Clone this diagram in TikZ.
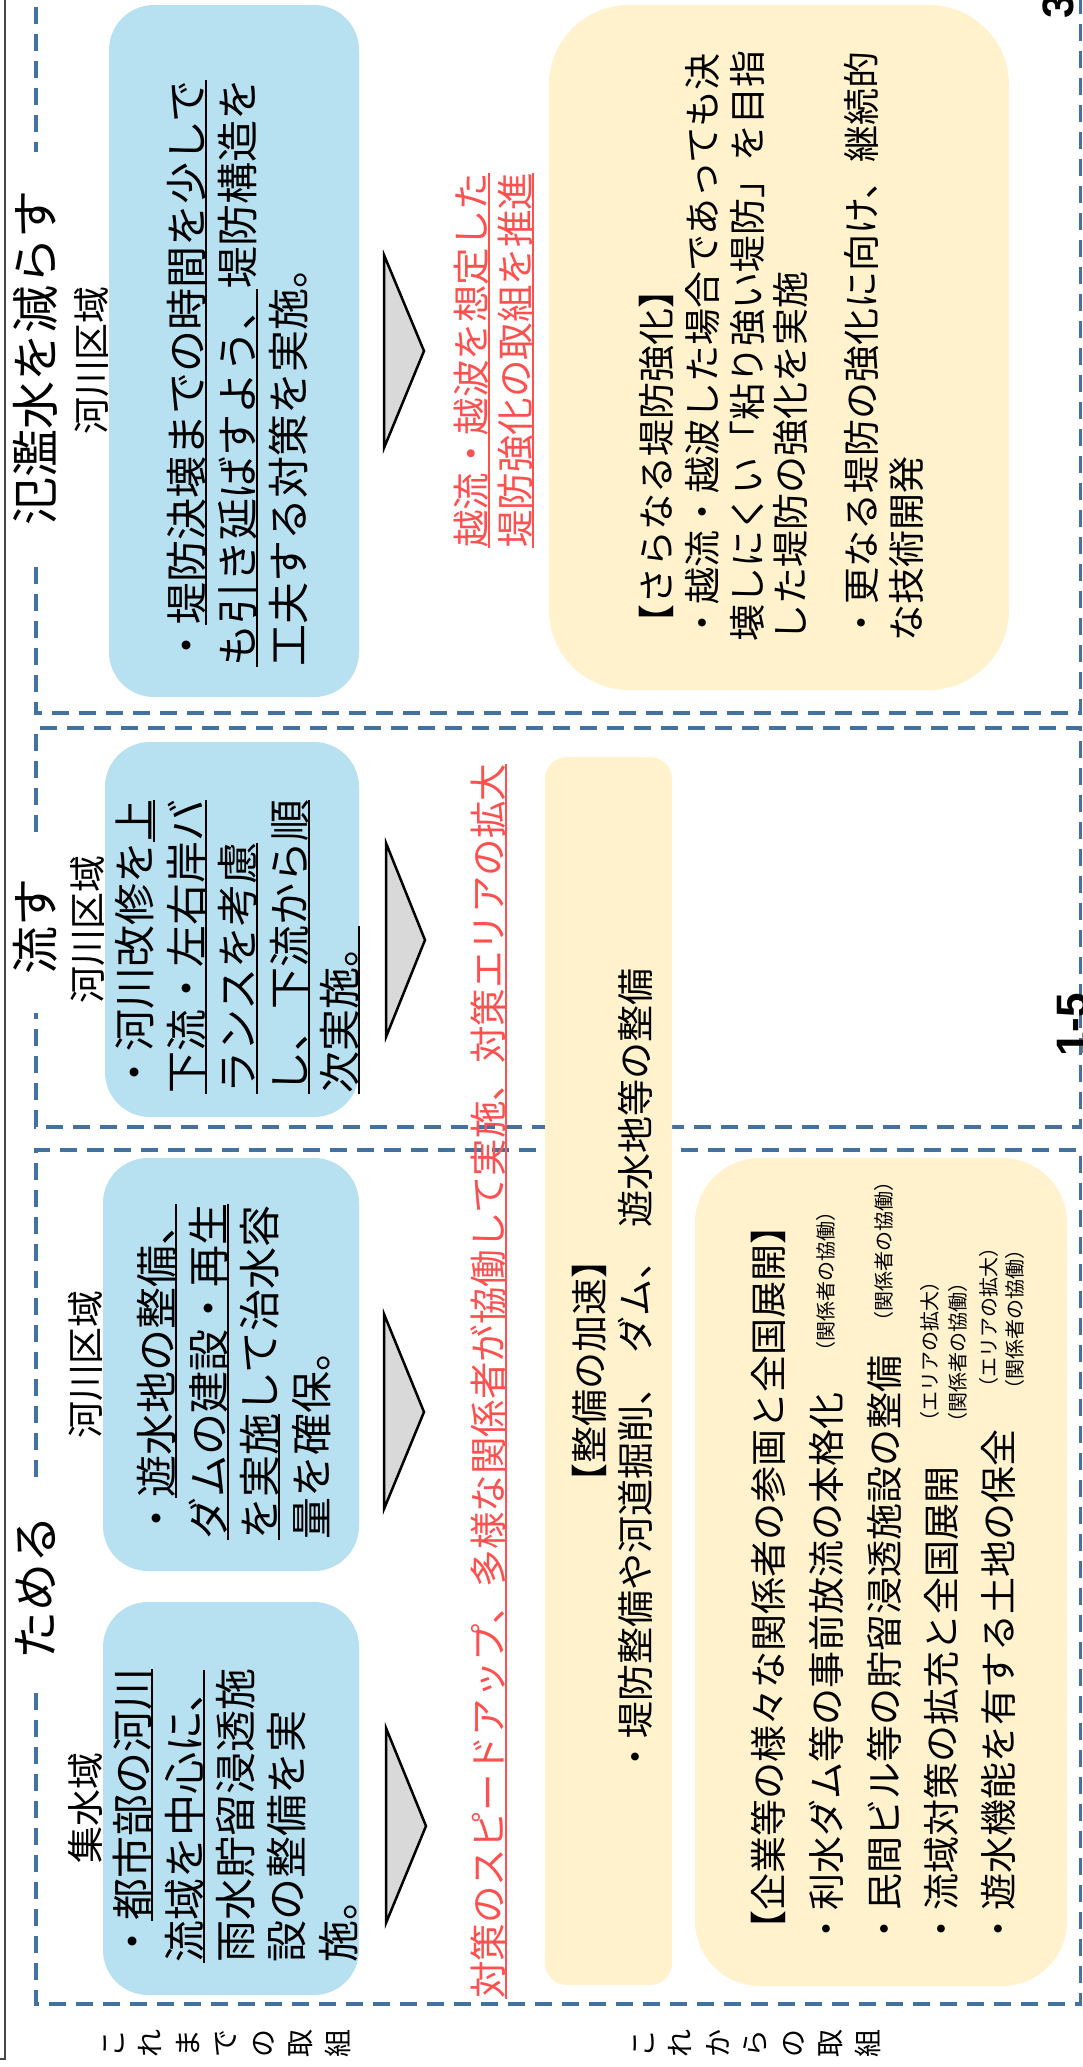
\documentclass[tikz,border=0pt]{standalone}
\usepackage{fontspec}
\setmainfont{Noto Sans CJK JP}
\newfontfamily\numfont{Liberation Sans}
\definecolor{boxblue}{RGB}{183,224,240}
\definecolor{boxyel}{RGB}{255,242,204}
\definecolor{dashblue}{RGB}{68,114,160}
\definecolor{trigray}{RGB}{217,217,217}
\definecolor{redtxt}{RGB}{255,80,80}
\definecolor{framegray}{RGB}{70,70,70}
\newcommand{\uln}[1]{\setbox0=\hbox{#1}\rlap{\rule[-0.13em]{\wd0}{2.2pt}}\box0}
\begin{document}
\begin{tikzpicture}[x=1pt,y=-1pt,
 tl/.style={rotate=90,anchor=base west,inner sep=0pt},
 tc/.style={rotate=90,anchor=base,inner sep=0pt},
 fT/.style={font=\fontsize{48}{56}\selectfont},
 fR/.style={font=\fontsize{37}{44}\selectfont},
 fB/.style={font=\fontsize{42}{50}\selectfont},
 fRed/.style={font=\fontsize{37.5}{44}\selectfont,text=redtxt},
 fY/.style={font=\fontsize{37}{44}\selectfont},
 fS/.style={font=\fontsize{20}{24}\selectfont},
 fPg/.style={font={\numfont\bfseries\fontsize{44}{48}\selectfont}},
 lab/.style={rotate=90,anchor=center,inner sep=0pt,align=center,font=\fontsize{28}{37.5}\selectfont},
 dbox/.style={draw=dashblue,line width=3.5pt,dash pattern=on 17pt off 10pt},
 bluebox/.style={fill=boxblue,rounded corners=45pt},
 tri/.style={fill=trigray,draw=black,line width=2.5pt,line join=miter},
]
\useasboundingbox (0,0) rectangle (1082,2067);
\fill[white] (0,0) rectangle (1082,2067);

% outer frame
\draw[framegray,line width=1.6pt] (5,-20) -- (5,2059) -- (-20,2059);

% dashed section frames
\draw[dbox] (36,-20) -- (36,152);
\draw[dbox] (36,567) -- (36,713) -- (1080.5,713) -- (1080.5,-20);
\draw[dbox] (36,832) -- (36,728) -- (1080.5,728) -- (1080.5,1127) -- (36,1127) -- (36,1013);
\draw[dbox] (36,1477) -- (36,1150) -- (1080.5,1150) -- (1080.5,2004) -- (36,2004) -- (36,1688);

% boxes
\fill[bluebox] (109,5) rectangle (359,697);
\fill[bluebox] (105,742) rectangle (359,1117);
\fill[bluebox] (103,1158) rectangle (359,1571);
\fill[bluebox] (103,1602) rectangle (359,1995);
\fill[boxyel,rounded corners=80pt] (549,5) rectangle (1009,690);
\fill[boxyel,rounded corners=22pt] (545,757) rectangle (672,1985);
\fill[boxyel,rounded corners=65pt] (695,1158) rectangle (1067,1986);

% triangles
\draw[tri] (384,255) -- (384,448) -- (424,351) -- cycle;
\draw[tri] (386,843) -- (386,1037) -- (425,940) -- cycle;
\draw[tri] (384,1314) -- (384,1509) -- (424,1412) -- cycle;
\draw[tri] (386,1728) -- (386,1923) -- (426,1826) -- cycle;

% section A
\node[tl,fT] (tA) at (53,526) {氾濫水を減らす};
\node[tl,fR] (rA) at (105,435) {河川区域};
\node[tl,fB] (a1) at (202,667) {・\uln{堤防決壊までの時間を少しで}};
\node[tl,fB] (a2) at (253,667) {\uln{も引き延ばすよう、}堤防構造を};
\node[tl,fB] (a3) at (304,667) {工夫する対策を実施。};
\node[tl,fRed] (ra1) at (485,548) {\uln{越流・越波を想定した}};
\node[tl,fRed] (ra2) at (529,548) {\uln{堤防強化の取組を推進}};
\node[tl,fY] (y1) at (670,642) {【さらなる堤防強化】};
\node[tl,fY] (y2) at (716,642) {・越流・越波した場合であっても決};
\node[tl,fY] (y3) at (761,642) {壊しにくい「粘り強い堤防」を目指};
\node[tl,fY] (y4) at (804,642) {した堤防の強化を実施};
\node[tl,fY] (y5) at (875,642) {・更なる堤防の強化に向け、継続的};
\node[tl,fY] (y6) at (920,642) {な技術開発};

% section B
\node[tl,fT] (tB) at (53,975) {流す};
\node[tl,fR] (rB) at (101,1004) {河川区域};
\node[tl,fB] (b1) at (150,1094) {・河川改修を\uln{上}};
\node[tl,fB] (b2) at (202,1094) {\uln{下流・左右岸バ}};
\node[tl,fB] (b3) at (253,1094) {\uln{ランスを考慮}};
\node[tl,fB] (b4) at (305,1094) {\uln{し、下流から順}};
\node[tl,fB] (b5) at (355,1094) {\uln{次実施。}};

% long red line
\node[tl,fRed] (rl) at (502,1999) {\uln{対策のスピードアップ、多様な関係者が協働して実施、対策エリアの拡大}};

% seibi box
\node[tc,fY] (s1) at (603,1371) {【整備の加速】};
\node[tc,fY] (s2) at (649,1372) {・堤防整備や河道掘削、\hspace{0.4em}ダム、\hspace{0.4em}遊水地等の整備};

% section C
\node[tl,fT] (tC) at (53,1660) {ためる};
\node[tl,fR] (rC2) at (99,1439) {河川区域};
\node[tl,fR] (rC1) at (99,1864) {集水域};
\node[tl,fB] (c21) at (172,1540) {・\uln{遊水地の整備、}};
\node[tl,fB] (c22) at (224,1540) {\uln{ダムの建設・再生}};
\node[tl,fB] (c23) at (275,1540) {\uln{を実施}して治水容};
\node[tl,fB] (c24) at (327,1540) {量を確保。};
\node[tl,fB] (c11) at (148,1963) {・\uln{都市部の河川}};
\node[tl,fB] (c12) at (200,1963) {\uln{流域を中心に、}};
\node[tl,fB] (c13) at (251,1963) {雨水貯留浸透施};
\node[tl,fB] (c14) at (302,1963) {設の整備を実};
\node[tl,fB] (c15) at (354,1963) {施。};

% big yellow box
\node[tl,fY] (k1) at (782,1948) {【企業等の様々な関係者の参画と全国展開】};
\node[tl,fY] (k2) at (840,1948) {・利水ダム等の事前放流の本格化};
\node[tl,fY] (k3) at (898,1948) {・民間ビル等の貯留浸透施設の整備};
\node[tl,fY] (k4) at (955,1948) {・流域対策の拡充と全国展開};
\node[tl,fY] (k5) at (1012,1948) {・遊水機能を有する土地の保全};
\node[tl,fS] (n2) at (833,1362) {（関係者の協働）};
\node[tl,fS] (n3) at (891,1332) {（関係者の協働）};
\node[tl,fS] (n4a) at (937,1432) {（エリアの拡大）};
\node[tl,fS] (n4b) at (965,1433) {（関係者の協働）};
\node[tl,fS] (n5a) at (996,1398) {（エリアの拡大）};
\node[tl,fS] (n5b) at (1022,1400) {（関係者の協働）};

% row labels
\node[lab] (lb1) at (227,2043) {こ\\れ\\ま\\で\\の\\取\\組};
\node[lab] (lb2) at (757,2043) {こ\\れ\\か\\ら\\の\\取\\組};

% page marks
\node[tl,fPg] (pg) at (1087,1057) {1-5};
\node[tl,fPg] (pg3) at (1073,19) {3};
\end{tikzpicture}
\end{document}
